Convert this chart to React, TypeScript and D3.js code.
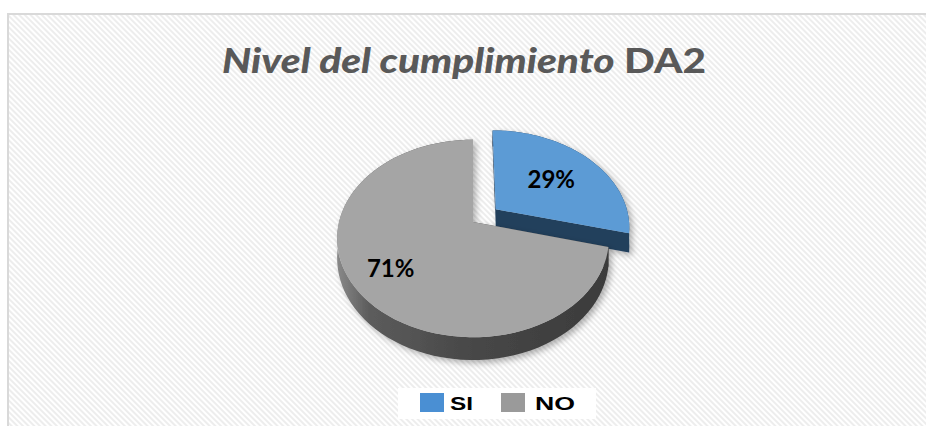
import React, { useEffect } from 'react';
import * as d3 from 'd3';

// ---- data ----
const categories = ['SI', 'NO'];
const values = [29, 71];
const valueLabels = ['29%', '71%'];
const titleItalic = 'Nivel del cumplimiento';
const titleBold = 'DA2';

// ---- layout / style ----
const W = 926, H = 426;
const SVG_W = 1000, SVG_H = 480;
const CX = 473, CY = 222, RX = 134, RY = 96, K = 0.167, DEPTH = 19;
const EXPLODE = [0.22, 0];
const LABEL_R = [0.58, 0.72];
const TOP_COLORS = ['#5b9bd5', '#a5a5a5'];
const SIDE_COLORS = ['#233f5c', 'url(#graySide)'];
const LEGEND_COLORS = ['#4a8fd3', '#9a9a9a'];

function proj(u: number, v: number, h: number): [number, number] {
  const w = 1 - K * v;
  return [CX + (RX * u) / w, CY + (RY * v) / w + (h * DEPTH) / w];
}

const line = d3.line();

export default function App() {
  useEffect(() => {
    document.body.style.margin = '0';
    document.body.style.overflow = 'hidden';
    document.documentElement.style.overflow = 'hidden';
  }, []);

  const pie = d3.pie<number>().sort(null).value(d => d)(values);

  const slices = pie.map((p, i) => {
    const a0 = p.startAngle, a1 = p.endAngle;
    const mid = (a0 + a1) / 2;
    const e = EXPLODE[i];
    const ox = e * Math.sin(mid), oy = -e * Math.cos(mid);
    const pt = (a: number, r: number, h: number) =>
      proj(ox + r * Math.sin(a), oy - r * Math.cos(a), h);
    const n = 80;
    const angles = d3.range(n + 1).map(j => a0 + ((a1 - a0) * j) / n);
    const topArc = angles.map(a => pt(a, 1, 0));
    const botArc = angles.map(a => pt(a, 1, 1)).reverse();
    const top = line([pt(0, 0, 0), ...topArc])! + 'Z';
    const outer = line([...topArc, ...botArc])! + 'Z';
    const radial1 = line([pt(a1, 0, 0), pt(a1, 1, 0), pt(a1, 1, 1), pt(a1, 0, 1)])! + 'Z';
    const radial0 = line([pt(a0, 0, 0), pt(a0, 1, 0), pt(a0, 1, 1), pt(a0, 0, 1)])! + 'Z';
    const lab = pt(mid, LABEL_R[i], 0);
    return { i, top, outer, radial0, radial1, lab };
  });

  return (
    <svg width={SVG_W} height={SVG_H} style={{ position: 'fixed', left: 0, top: 0, display: 'block' }}>
      <defs>
        <pattern id="stripes" width="4" height="4" patternUnits="userSpaceOnUse" patternTransform="rotate(45)">
          <rect width="4" height="4" fill="#ffffff" />
          <rect width="4" height="2" fill="#ededed" />
        </pattern>
        <linearGradient id="graySide" gradientUnits="userSpaceOnUse" x1={CX - RX * 1.02} x2={CX + RX * 1.02} y1="0" y2="0">
          <stop offset="0" stopColor="#8a8a8a" />
          <stop offset="0.12" stopColor="#5c5c5c" />
          <stop offset="0.5" stopColor="#474747" />
          <stop offset="1" stopColor="#3b3b3b" />
        </linearGradient>
        <filter id="shadow" x="-20%" y="-20%" width="140%" height="140%">
          <feDropShadow dx="3" dy="3" stdDeviation="3" floodColor="#000" floodOpacity="0.3" />
        </filter>
      </defs>
      <rect x={0} y={0} width={SVG_W} height={SVG_H} fill="#fff" />
      <rect x={9} y={15} width={SVG_W} height={SVG_H} fill="url(#stripes)" />
      <path d={`M8,${SVG_H}V14H${SVG_W}`} fill="none" stroke="#d9d9d9" strokeWidth={2} />

      <text x={464} y={73} textAnchor="middle" fill="#595959" fontFamily="Lato, 'Open Sans', sans-serif" fontWeight="900" fontSize={35} textLength={484} lengthAdjust="spacingAndGlyphs">
        <tspan fontStyle="italic">{titleItalic}</tspan>
        <tspan> {titleBold}</tspan>
      </text>

      {[0, 1].map(i => {
        const s = slices[i];
        return (
          <g key={i} filter="url(#shadow)">
            <path d={s.outer} fill={SIDE_COLORS[i]} />
            <path d={s.radial0} fill={SIDE_COLORS[i]} />
            <path d={s.radial1} fill={SIDE_COLORS[i]} />
            <path d={s.top} fill={TOP_COLORS[i]} />
          </g>
        );
      })}

      {slices.map(s => (
        <text key={'l' + s.i} x={s.lab[0]} y={s.lab[1]} textAnchor="middle" dominantBaseline="central" fill="#000" fontFamily="Lato, sans-serif" fontWeight="bold" fontSize={24}>
          {valueLabels[s.i]}
        </text>
      ))}

      <rect x={398} y={388} width={198} height={31} fill="#fff" />
      {categories.map((c, i) => {
        const x0 = [420, 501][i];
        const tx = [450, 535][i];
        const tw = [23, 40][i];
        return (
          <g key={c}>
            <rect x={x0} y={393} width={24} height={19} fill={LEGEND_COLORS[i]} />
            <text x={tx} y={410} fill="#000" fontFamily="'Liberation Sans', Arial, sans-serif" fontWeight="bold" fontSize={19} textLength={tw} lengthAdjust="spacingAndGlyphs">
              {c}
            </text>
          </g>
        );
      })}
    </svg>
  );
}
